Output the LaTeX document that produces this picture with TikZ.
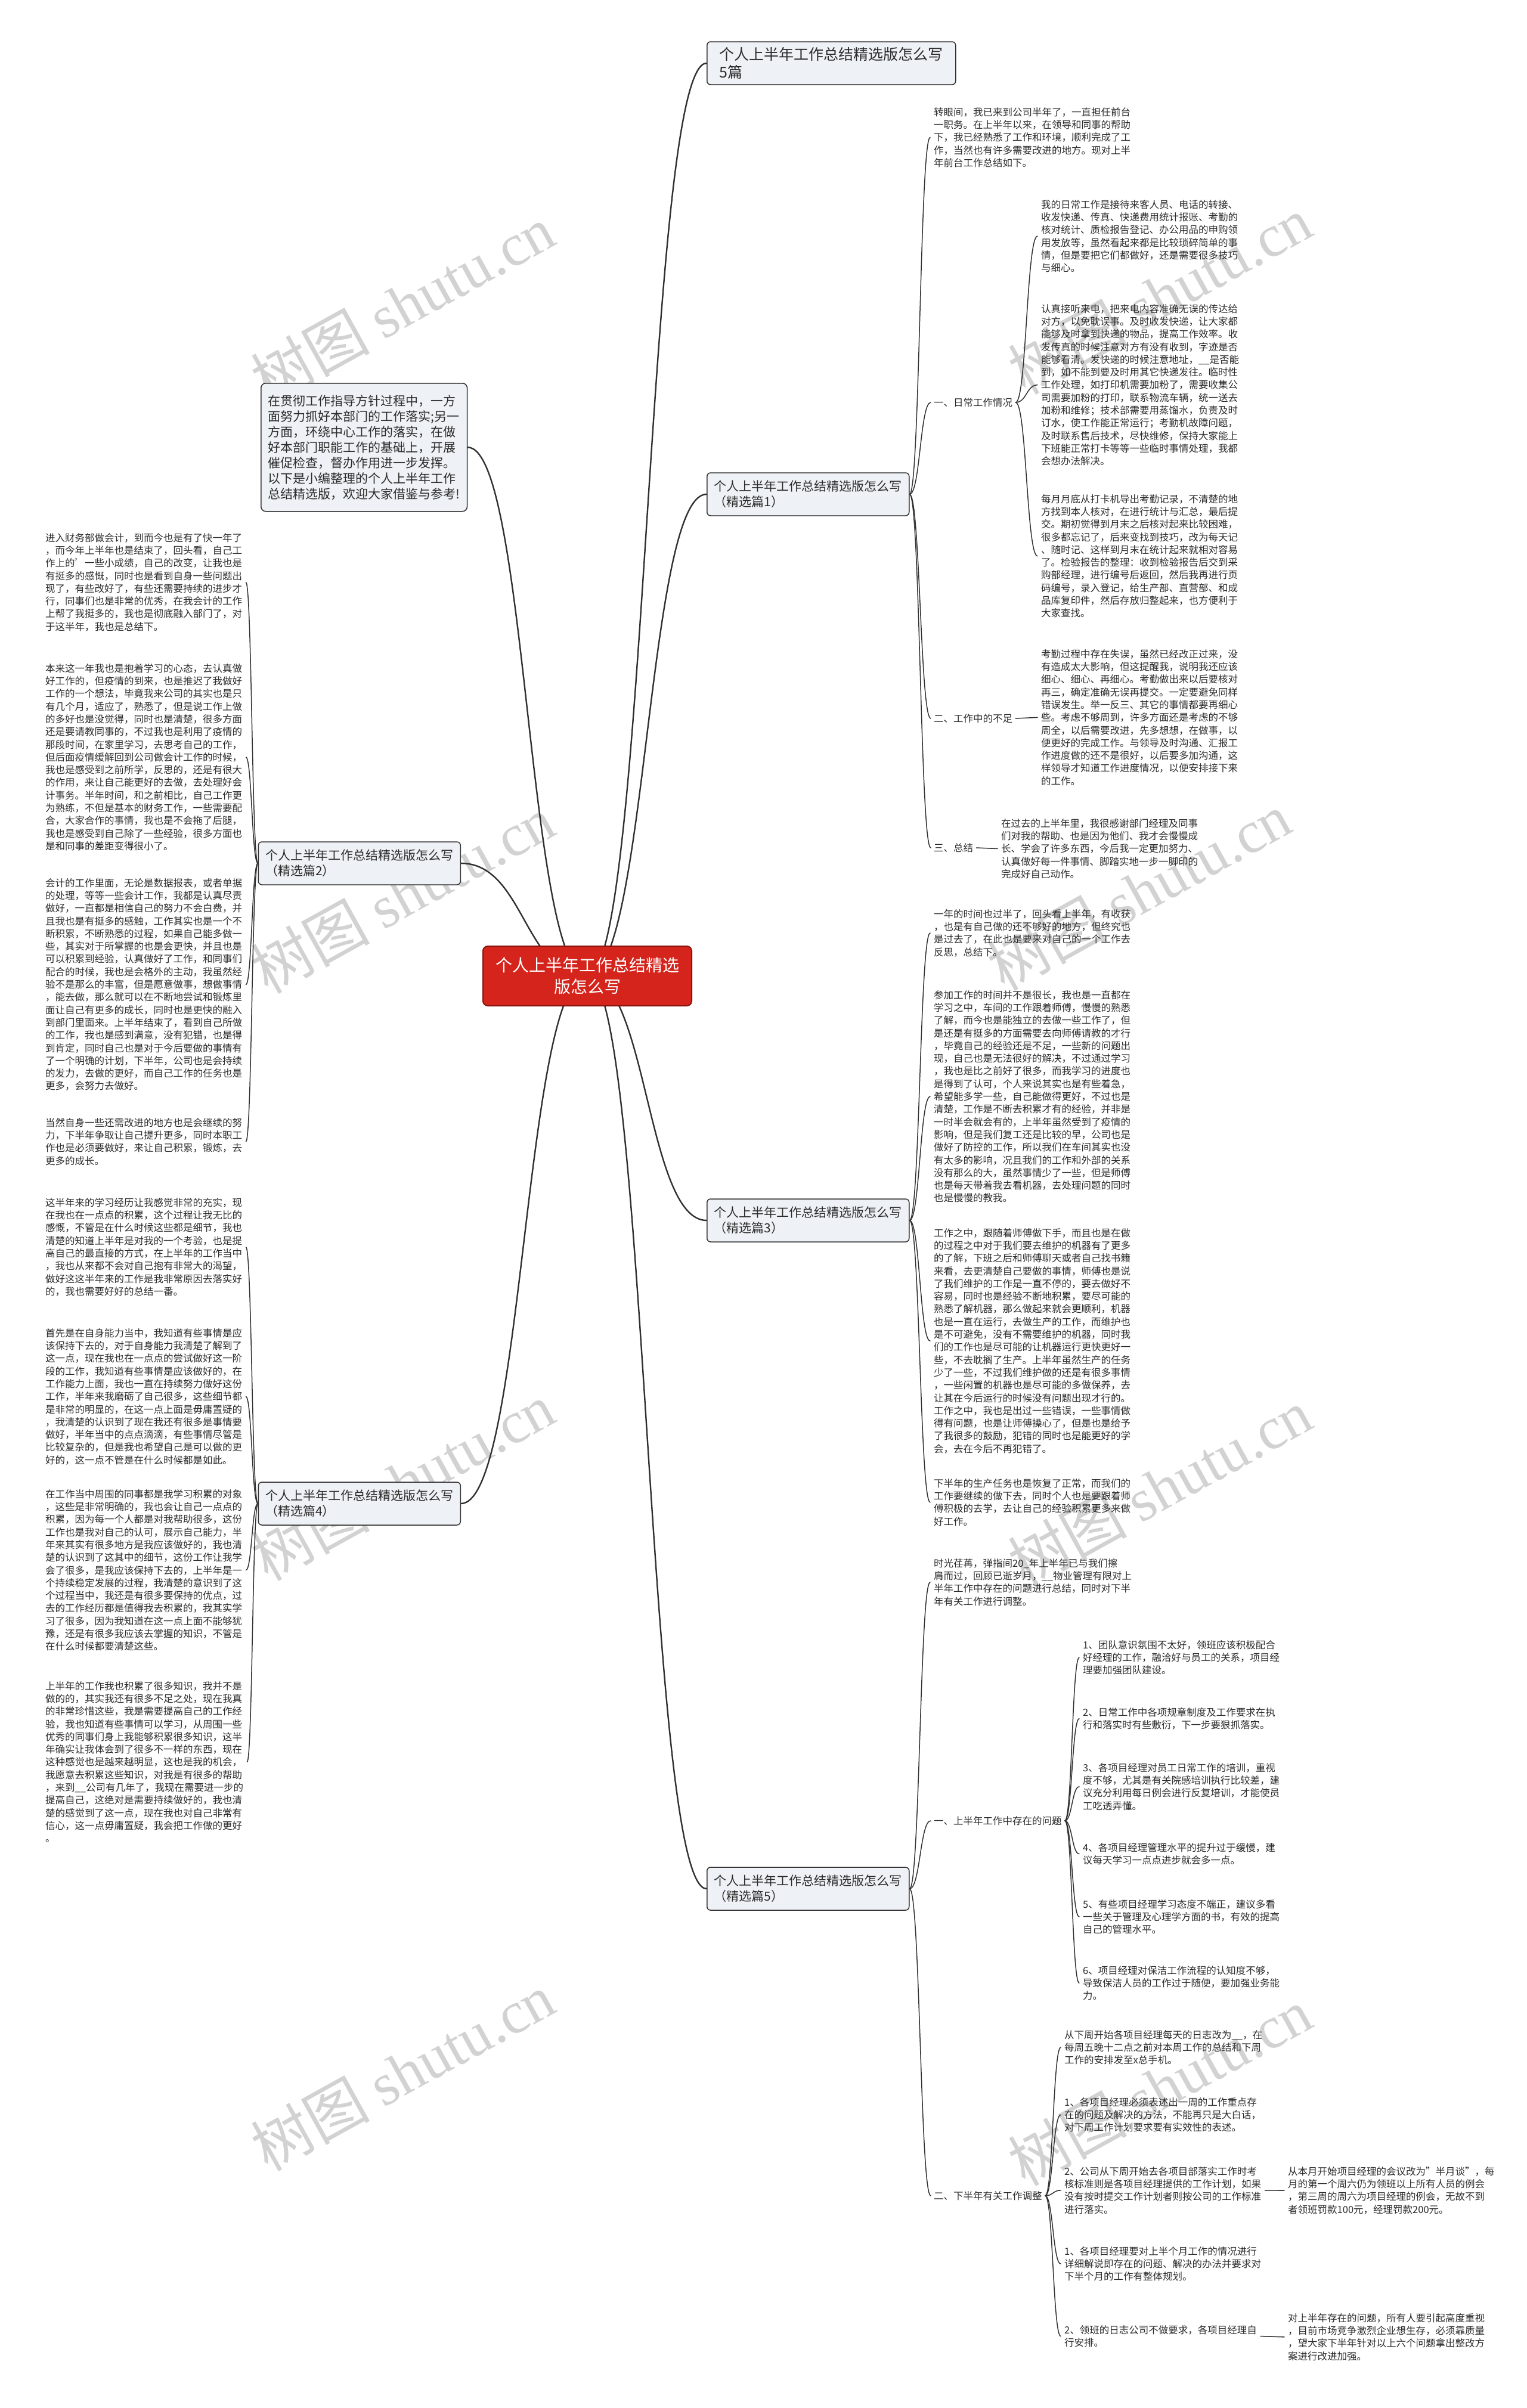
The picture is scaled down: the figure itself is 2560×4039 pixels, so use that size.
\documentclass[tikz,border=0pt]{standalone}
\usepackage{fontspec}
\setmainfont{Noto Sans CJK SC}
\newfontfamily\wmfont{Liberation Serif}
\usetikzlibrary{calc}
\pgfdeclarelayer{background}
\pgfsetlayers{background,main}
\definecolor{txt}{HTML}{2B2B2B}
\definecolor{ln}{HTML}{303030}
\definecolor{boxfill}{HTML}{EEF1F5}
\definecolor{rootred}{HTML}{D5241C}
\definecolor{rootedge}{HTML}{8A1510}
\definecolor{wm}{HTML}{D2D2D2}
\newcommand\fsS{\fontsize{16.5}{21.3}\selectfont}
\newcommand\fsM{\fontsize{21}{26}\selectfont}
\newcommand\fsT{\fontsize{25}{30}\selectfont}
\newcommand\fsL{\fontsize{28}{36}\selectfont}
\newcommand\cnx[3][conn]{\draw[#1] let \p1=(#2), \p2=(#3) in (\p1) .. controls ({0.5*\x1+0.5*\x2},\y1) and ({0.5*\x1+0.5*\x2},\y2) .. (\p2);}
\tikzset{
 para/.style={anchor=north west, inner xsep=6pt, inner ysep=0pt, xshift=-6pt, align=left, font=\fsS, text=txt},
 lbl/.style={anchor=west, inner xsep=5pt, inner ysep=2pt, xshift=-5pt, font=\fsS, text=txt},
 branch/.style={draw=ln, line width=1.5pt, fill=boxfill, rounded corners=6pt, align=left, font=\fsM, text=txt, inner xsep=12pt, inner ysep=8pt, minimum height=72pt, anchor=west},
 root/.style={draw=rootedge, line width=2pt, fill=rootred, rounded corners=8pt, align=center, font=\fsL, text=white, minimum width=350pt, minimum height=100pt},
 conn/.style={draw=ln, line width=1.5pt, line cap=round},
 mconn/.style={draw=ln, line width=2.4pt, line cap=round},
 wmark/.style={text=wm, rotate=29, font=\fontsize{100}{100}\selectfont, inner sep=0pt}
}
\begin{document}
\begin{tikzpicture}[x=1pt,y=-1pt]
\useasboundingbox (0,0) rectangle (2560,4039);

% root and branches
\node[root] (root) at (985,1637) {个人上半年工作总结精选\\版怎么写};
\node[branch, font=\fsT, inner xsep=10pt, minimum width=417pt] (top) at (1185,106) {个人上半年工作总结精选版怎么写\\5篇};
\node[branch] (b1) at (1185,829) {个人上半年工作总结精选版怎么写\\（精选篇1）};
\node[branch] (b3) at (1185,2047) {个人上半年工作总结精选版怎么写\\（精选篇3）};
\node[branch] (b5) at (1185,3168) {个人上半年工作总结精选版怎么写\\（精选篇5）};
\node[branch, anchor=east] (b2) at (773,1448) {个人上半年工作总结精选版怎么写\\（精选篇2）};
\node[branch, anchor=east] (b4) at (773,2522) {个人上半年工作总结精选版怎么写\\（精选篇4）};
\node[branch, anchor=north west, minimum width=342pt, minimum height=215pt, rounded corners=8pt] (intro) at (437,642) {在贯彻工作指导方针过程中，一方\\面努力抓好本部门的工作落实;另一\\方面，环绕中心工作的落实，在做\\好本部门职能工作的基础上，开展\\催促检查，督办作用进一步发挥。\\以下是小编整理的个人上半年工作\\总结精选版，欢迎大家借鉴与参考!};

% left column (篇2)
\node[para] (l1) at (76,894) {进入财务部做会计，到而今也是有了快一年了\\，而今年上半年也是结束了，回头看，自己工\\作上的'一些小成绩，自己的改变，让我也是\\有挺多的感慨，同时也是看到自身一些问题出\\现了，有些改好了，有些还需要持续的进步才\\行，同事们也是非常的优秀，在我会计的工作\\上帮了我挺多的，我也是彻底融入部门了，对\\于这半年，我也是总结下。};
\node[para] (l2) at (76,1113) {本来这一年我也是抱着学习的心态，去认真做\\好工作的，但疫情的到来，也是推迟了我做好\\工作的一个想法，毕竟我来公司的其实也是只\\有几个月，适应了，熟悉了，但是说工作上做\\的多好也是没觉得，同时也是清楚，很多方面\\还是要请教同事的，不过我也是利用了疫情的\\那段时间，在家里学习，去思考自己的工作，\\但后面疫情缓解回到公司做会计工作的时候，\\我也是感受到之前所学，反思的，还是有很大\\的作用，来让自己能更好的去做，去处理好会\\计事务。半年时间，和之前相比，自己工作更\\为熟练，不但是基本的财务工作，一些需要配\\合，大家合作的事情，我也是不会拖了后腿，\\我也是感受到自己除了一些经验，很多方面也\\是和同事的差距变得很小了。};
\node[para] (l3) at (76,1473) {会计的工作里面，无论是数据报表，或者单据\\的处理，等等一些会计工作，我都是认真尽责\\做好，一直都是相信自己的努力不会白费，并\\且我也是有挺多的感触，工作其实也是一个不\\断积累，不断熟悉的过程，如果自己能多做一\\些，其实对于所掌握的也是会更快，并且也是\\可以积累到经验，认真做好了工作，和同事们\\配合的时候，我也是会格外的主动，我虽然经\\验不是那么的丰富，但是愿意做事，想做事情\\，能去做，那么就可以在不断地尝试和锻炼里\\面让自己有更多的成长，同时也是更快的融入\\到部门里面来。上半年结束了，看到自己所做\\的工作，我也是感到满意，没有犯错，也是得\\到肯定，同时自己也是对于今后要做的事情有\\了一个明确的计划，下半年，公司也是会持续\\的发力，去做的更好，而自己工作的任务也是\\更多，会努力去做好。};
\node[para] (l4) at (76,1875) {当然自身一些还需改进的地方也是会继续的努\\力，下半年争取让自己提升更多，同时本职工\\作也是必须要做好，来让自己积累，锻炼，去\\更多的成长。};
% left column (篇4)
\node[para] (l5) at (76,2009) {这半年来的学习经历让我感觉非常的充实，现\\在我也在一点点的积累，这个过程让我无比的\\感慨，不管是在什么时候这些都是细节，我也\\清楚的知道上半年是对我的一个考验，也是提\\高自己的最直接的方式，在上半年的工作当中\\，我也从来都不会对自己抱有非常大的渴望，\\做好这这半年来的工作是我非常原因去落实好\\的，我也需要好好的总结一番。};
\node[para] (l6) at (76,2228) {首先是在自身能力当中，我知道有些事情是应\\该保持下去的，对于自身能力我清楚了解到了\\这一点，现在我也在一点点的尝试做好这一阶\\段的工作，我知道有些事情是应该做好的，在\\工作能力上面，我也一直在持续努力做好这份\\工作，半年来我磨砺了自己很多，这些细节都\\是非常的明显的，在这一点上面是毋庸置疑的\\，我清楚的认识到了现在我还有很多是事情要\\做好，半年当中的点点滴滴，有些事情尽管是\\比较复杂的，但是我也希望自己是可以做的更\\好的，这一点不管是在什么时候都是如此。};
\node[para] (l7) at (76,2498) {在工作当中周围的同事都是我学习积累的对象\\，这些是非常明确的，我也会让自己一点点的\\积累，因为每一个人都是对我帮助很多，这份\\工作也是我对自己的认可，展示自己能力，半\\年来其实有很多地方是我应该做好的，我也清\\楚的认识到了这其中的细节，这份工作让我学\\会了很多，是我应该保持下去的，上半年是一\\个持续稳定发展的过程，我清楚的意识到了这\\个过程当中，我还是有很多要保持的优点，过\\去的工作经历都是值得我去积累的，我其实学\\习了很多，因为我知道在这一点上面不能够犹\\豫，还是有很多我应该去掌握的知识，不管是\\在什么时候都要清楚这些。};
\node[para] (l8) at (76,2820) {上半年的工作我也积累了很多知识，我并不是\\做的的，其实我还有很多不足之处，现在我真\\的非常珍惜这些，我是需要提高自己的工作经\\验，我也知道有些事情可以学习，从周围一些\\优秀的同事们身上我能够积累很多知识，这半\\年确实让我体会到了很多不一样的东西，现在\\这种感觉也是越来越明显，这也是我的机会，\\我愿意去积累这些知识，对我是有很多的帮助\\，来到\_\_公司有几年了，我现在需要进一步的\\提高自己，这绝对是需要持续做好的，我也清\\楚的感觉到了这一点，现在我也对自己非常有\\信心，这一点毋庸置疑，我会把工作做的更好\\。};

% 篇1
\node[para] (a0) at (1566,180) {转眼间，我已来到公司半年了，一直担任前台\\一职务。在上半年以来，在领导和同事的帮助\\下，我已经熟悉了工作和环境，顺利完成了工\\作，当然也有许多需要改进的地方。现对上半\\年前台工作总结如下。};
\node[lbl] (a1) at (1566,675) {一、日常工作情况};
\node[lbl] (a2) at (1566,1205) {二、工作中的不足};
\node[lbl] (a3) at (1566,1422) {三、总结};
\node[para] (p1) at (1746,335) {我的日常工作是接待来客人员、电话的转接、\\收发快递、传真、快递费用统计报账、考勤的\\核对统计、质检报告登记、办公用品的申购领\\用发放等，虽然看起来都是比较琐碎简单的事\\情，但是要把它们都做好，还是需要很多技巧\\与细心。};
\node[para] (p2) at (1746,510) {认真接听来电，把来电内容准确无误的传达给\\对方，以免耽误事。及时收发快递，让大家都\\能够及时拿到快递的物品，提高工作效率。收\\发传真的时候注意对方有没有收到，字迹是否\\能够看清。发快递的时候注意地址，\_\_是否能\\到，如不能到要及时用其它快递发往。临时性\\工作处理，如打印机需要加粉了，需要收集公\\司需要加粉的打印，联系物流车辆，统一送去\\加粉和维修；技术部需要用蒸馏水，负责及时\\订水，使工作能正常运行；考勤机故障问题，\\及时联系售后技术，尽快维修，保持大家能上\\下班能正常打卡等等一些临时事情处理，我都\\会想办法解决。};
\node[para] (p3) at (1746,829) {每月月底从打卡机导出考勤记录，不清楚的地\\方找到本人核对，在进行统计与汇总，最后提\\交。期初觉得到月末之后核对起来比较困难，\\很多都忘记了，后来变找到技巧，改为每天记\\、随时记、这样到月末在统计起来就相对容易\\了。检验报告的整理：收到检验报告后交到采\\购部经理，进行编号后返回，然后我再进行页\\码编号，录入登记，给生产部、直营部、和成\\品库复印件，然后存放归整起来，也方便利于\\大家查找。};
\node[para] (p4) at (1746,1089) {考勤过程中存在失误，虽然已经改正过来，没\\有造成太大影响，但这提醒我，说明我还应该\\细心、细心、再细心。考勤做出来以后要核对\\再三，确定准确无误再提交。一定要避免同样\\错误发生。举一反三、其它的事情都要再细心\\些。考虑不够周到，许多方面还是考虑的不够\\周全，以后需要改进，先多想想，在做事，以\\便更好的完成工作。与领导及时沟通、汇报工\\作进度做的还不是很好，以后要多加沟通，这\\样领导才知道工作进度情况，以便安排接下来\\的工作。};
\node[para] (p5) at (1679,1373) {在过去的上半年里，我很感谢部门经理及同事\\们对我的帮助、也是因为他们、我才会慢慢成\\长、学会了许多东西，今后我一定更加努力、\\认真做好每一件事情、脚踏实地一步一脚印的\\完成好自己动作。};

% 篇3
\node[para] (q1) at (1566,1525) {一年的时间也过半了，回头看上半年，有收获\\，也是有自己做的还不够好的地方，但终究也\\是过去了，在此也是要来对自己的一个工作去\\反思，总结下。};
\node[para] (q2) at (1566,1661) {参加工作的时间并不是很长，我也是一直都在\\学习之中，车间的工作跟着师傅，慢慢的熟悉\\了解，而今也是能独立的去做一些工作了，但\\是还是有挺多的方面需要去向师傅请教的才行\\，毕竟自己的经验还是不足，一些新的问题出\\现，自己也是无法很好的解决，不过通过学习\\，我也是比之前好了很多，而我学习的进度也\\是得到了认可，个人来说其实也是有些着急，\\希望能多学一些，自己能做得更好，不过也是\\清楚，工作是不断去积累才有的经验，并非是\\一时半会就会有的，上半年虽然受到了疫情的\\影响，但是我们复工还是比较的早，公司也是\\做好了防控的工作，所以我们在车间其实也没\\有太多的影响，况且我们的工作和外部的关系\\没有那么的大，虽然事情少了一些，但是师傅\\也是每天带着我去看机器，去处理问题的同时\\也是慢慢的教我。};
\node[para] (q3) at (1566,2060) {工作之中，跟随着师傅做下手，而且也是在做\\的过程之中对于我们要去维护的机器有了更多\\的了解，下班之后和师傅聊天或者自己找书籍\\来看，去更清楚自己要做的事情，师傅也是说\\了我们维护的工作是一直不停的，要去做好不\\容易，同时也是经验不断地积累，要尽可能的\\熟悉了解机器，那么做起来就会更顺利，机器\\也是一直在运行，去做生产的工作，而维护也\\是不可避免，没有不需要维护的机器，同时我\\们的工作也是尽可能的让机器运行更快更好一\\些，不去耽搁了生产。上半年虽然生产的任务\\少了一些，不过我们维护做的还是有很多事情\\，一些闲置的机器也是尽可能的多做保养，去\\让其在今后运行的时候没有问题出现才行的。\\工作之中，我也是出过一些错误，一些事情做\\得有问题，也是让师傅操心了，但是也是给予\\了我很多的鼓励，犯错的同时也是能更好的学\\会，去在今后不再犯错了。};
\node[para] (q4) at (1566,2480) {下半年的生产任务也是恢复了正常，而我们的\\工作要继续的做下去，同时个人也是要跟着师\\傅积极的去学，去让自己的经验积累更多来做\\好工作。};

% 篇5
\node[para] (r0) at (1566,2614) {时光荏苒，弹指间20\_年上半年已与我们擦\\肩而过，回顾已逝岁月，\_\_物业管理有限对上\\半年工作中存在的问题进行总结，同时对下半\\年有关工作进行调整。};
\node[lbl] (r1) at (1566,3054) {一、上半年工作中存在的问题};
\node[lbl] (r2) at (1566,3683) {二、下半年有关工作调整};
\node[para] (s1) at (1816,2751) {1、团队意识氛围不太好，领班应该积极配合\\好经理的工作，融洽好与员工的关系，项目经\\理要加强团队建设。};
\node[para] (s2) at (1816,2864) {2、日常工作中各项规章制度及工作要求在执\\行和落实时有些敷衍，下一步要狠抓落实。};
\node[para] (s3) at (1816,2957) {3、各项目经理对员工日常工作的培训，重视\\度不够，尤其是有关院感培训执行比较差，建\\议充分利用每日例会进行反复培训，才能使员\\工吃透弄懂。};
\node[para] (s4) at (1816,3091) {4、各项目经理管理水平的提升过于缓慢，建\\议每天学习一点点进步就会多一点。};
\node[para] (s5) at (1816,3186) {5、有些项目经理学习态度不端正，建议多看\\一些关于管理及心理学方面的书，有效的提高\\自己的管理水平。};
\node[para] (s6) at (1816,3297) {6、项目经理对保洁工作流程的认知度不够，\\导致保洁人员的工作过于随便，要加强业务能\\力。};
\node[para] (t0) at (1785,3405) {从下周开始各项目经理每天的日志改为\_\_，在\\每周五晚十二点之前对本周工作的总结和下周\\工作的安排发至x总手机。};
\node[para] (t1) at (1785,3518) {1、各项目经理必须表述出一周的工作重点存\\在的问题及解决的方法，不能再只是大白话，\\对下周工作计划要求要有实效性的表述。};
\node[para] (t2) at (1785,3634) {2、公司从下周开始去各项目部落实工作时考\\核标准则是各项目经理提供的工作计划，如果\\没有按时提交工作计划者则按公司的工作标准\\进行落实。};
\node[para] (t3) at (1785,3768) {1、各项目经理要对上半个月工作的情况进行\\详细解说即存在的问题、解决的办法并要求对\\下半个月的工作有整体规划。};
\node[para] (t4) at (1785,3900) {2、领班的日志公司不做要求，各项目经理自\\行安排。};
\node[para] (n1) at (2160,3634) {从本月开始项目经理的会议改为"半月谈"，每\\月的第一个周六仍为领班以上所有人员的例会\\，第三周的周六为项目经理的例会，无故不到\\者领班罚款100元，经理罚款200元。};
\node[para] (n2) at (2160,3880) {对上半年存在的问题，所有人要引起高度重视\\，目前市场竞争激烈企业想生存，必须靠质量\\，望大家下半年针对以上六个问题拿出整改方\\案进行改进加强。};

\begin{pgfonlayer}{background}
\fill[white] (0,0) rectangle (2560,4039);
% watermarks
\foreach \wx/\wy [count=\i] in {675/510,1945/495,675/1500,1910/1495,675/2485,1945/2495,675/3475,1945/3500}{
  \node[wmark] (wm\i) at (\wx,\wy) {树图 {\wmfont shutu.cn}};
}
% main connectors
\cnx[mconn]{root.center}{top.west}
\cnx[mconn]{root.center}{b1.west}
\cnx[mconn]{root.center}{b3.west}
\cnx[mconn]{root.center}{b5.west}
\cnx[mconn]{root.center}{intro.east}
\cnx[mconn]{root.center}{b2.east}
\cnx[mconn]{root.center}{b4.east}
% left
\foreach \c in {l1,l2,l3,l4}{\cnx{b2.west}{\c.east}}
\foreach \c in {l5,l6,l7,l8}{\cnx{b4.west}{\c.east}}
% 篇1
\foreach \c in {a0,a1,a2,a3}{\cnx{b1.east}{\c.west}}
\foreach \c in {p1,p2,p3}{\cnx{a1.east}{\c.west}}
\cnx{a2.east}{p4.west}
\cnx{a3.east}{p5.west}
% 篇3
\foreach \c in {q1,q2,q3,q4}{\cnx{b3.east}{\c.west}}
% 篇5
\foreach \c in {r0,r1,r2}{\cnx{b5.east}{\c.west}}
\foreach \c in {s1,s2,s3,s4,s5,s6}{\cnx{r1.east}{\c.west}}
\foreach \c in {t0,t1,t2,t3,t4}{\cnx{r2.east}{\c.west}}
\cnx{t2.east}{n1.west}
\cnx{t4.east}{n2.west}
\end{pgfonlayer}
\end{tikzpicture}
\end{document}
